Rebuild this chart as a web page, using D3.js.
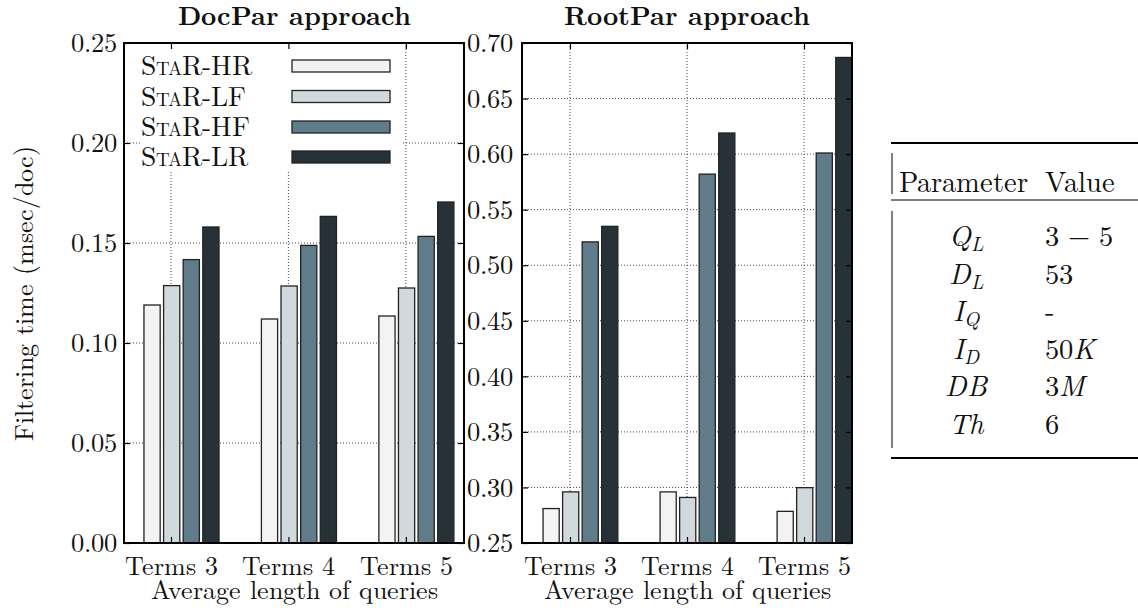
<!DOCTYPE html>
<html>
<head>
<meta charset="utf-8">
<script src="https://cdn.jsdelivr.net/npm/d3@7"></script>
<style>
  @font-face {
    font-family: "LMR";
    src: local("LMRoman10-Regular"), local("LM Roman 10 Regular"), local("Latin Modern Roman");
    font-weight: 400; font-style: normal;
    ascent-override: 70%; descent-override: 20%; line-gap-override: 0%;
  }
  @font-face {
    font-family: "LMR";
    src: local("LMRoman10-Bold"), local("LM Roman 10 Bold"), local("Latin Modern Roman Bold");
    font-weight: 700; font-style: normal;
    ascent-override: 70%; descent-override: 20%; line-gap-override: 0%;
  }
  @font-face {
    font-family: "LMR";
    src: local("LMRoman10-Italic"), local("LM Roman 10 Italic"), local("Latin Modern Roman Italic");
    font-weight: 400; font-style: italic;
    ascent-override: 70%; descent-override: 20%; line-gap-override: 0%;
  }
  html, body { margin: 0; padding: 0; background: #fff; }
  svg { display: block; }
</style>
</head>
<body>
<svg id="chart" width="1138" height="608"></svg>
<script>
// ---------------- data ----------------
const categories = ["Terms 3", "Terms 4", "Terms 5"];
const seriesNames = ["StaR-HR", "StaR-LF", "StaR-HF", "StaR-LR"];
const seriesColors = ["#f3f3f3", "#d1d9dc", "#607c8a", "#263238"];

const docParHR = [0.119, 0.112, 0.1135];
const docParLF = [0.1287, 0.1285, 0.1275];
const docParHF = [0.1417, 0.1488, 0.1533];
const docParLR = [0.158, 0.1633, 0.1705];

const rootParHR = [0.281, 0.296, 0.2785];
const rootParLF = [0.296, 0.291, 0.2998];
const rootParHF = [0.521, 0.582, 0.601];
const rootParLR = [0.535, 0.619, 0.687];

const yTicksDoc = [0.00, 0.05, 0.10, 0.15, 0.20, 0.25];
const yTicksRoot = [0.25, 0.30, 0.35, 0.40, 0.45, 0.50, 0.55, 0.60, 0.65, 0.70];

const tableParams = [
  {main: "Q", sub: "L"},
  {main: "D", sub: "L"},
  {main: "I", sub: "Q"},
  {main: "I", sub: "D"},
  {main: "DB", sub: ""},
  {main: "Th", sub: ""}
];
const tableValues = [
  [{t: "3 \u2212 5", i: false}],
  [{t: "53", i: false}],
  [{t: "-", i: false}],
  [{t: "50", i: false}, {t: "K", i: true}],
  [{t: "3", i: false}, {t: "M", i: true}],
  [{t: "6", i: false}]
];

// ---------------- drawing ----------------
const FONT = '"LMR", "Latin Modern Roman", "Liberation Serif", serif';
const svg = d3.select("#chart");
const fmt = d3.format(".2f");

function panel(cfg) {
  const {x0, x1, y0, y1, xDomain, yDomain, yTicks, values, title, labelPad, legend} = cfg;
  const x = d3.scaleLinear().domain(xDomain).range([x0, x1]);
  const y = d3.scaleLinear().domain(yDomain).range([y1, y0]);
  const g = svg.append("g");

  // grid
  g.append("g").selectAll("line").data(yTicks.slice(1, -1)).join("line")
    .attr("x1", x0).attr("x2", x1).attr("y1", d => y(d)).attr("y2", d => y(d))
    .attr("stroke", "#333").attr("stroke-width", 0.9).attr("stroke-dasharray", "1,2");
  g.append("g").selectAll("line").data(d3.range(categories.length)).join("line")
    .attr("x1", d => x(d)).attr("x2", d => x(d)).attr("y1", y0).attr("y2", y1)
    .attr("stroke", "#333").attr("stroke-width", 0.9).attr("stroke-dasharray", "1,2");

  // bars
  const slot = 0.167, bw = 0.138, start = -0.23;
  const rows = [];
  values.forEach((arr, s) => arr.forEach((v, c) => rows.push({s, c, v})));
  g.append("g").selectAll("rect").data(rows).join("rect")
    .attr("x", d => x(d.c + start + d.s * slot))
    .attr("width", d => x(d.c + start + d.s * slot + bw) - x(d.c + start + d.s * slot))
    .attr("y", d => y(d.v))
    .attr("height", d => y(yDomain[0]) - y(d.v))
    .attr("fill", d => seriesColors[d.s])
    .attr("stroke", "#222").attr("stroke-width", 1.3);

  // legend
  if (legend) {
    const lg = g.append("g");
    lg.append("rect").attr("x", 141).attr("y", y0 + 2).attr("width", 260).attr("height", 127)
      .attr("fill", "#fff");
    const rowY = [66, 96.5, 127, 157];
    seriesNames.forEach((name, i) => {
      lg.append("text").attr("x", 141).attr("y", rowY[i] + 9)
        .attr("font-size", 27.5).style("font-variant", "small-caps").text(name);
      lg.append("rect").attr("x", 292).attr("y", rowY[i] - 6).attr("width", 98).attr("height", 12)
        .attr("fill", seriesColors[i]).attr("stroke", "#222").attr("stroke-width", 1.3);
    });
  }

  // axes
  const axL = g.append("g").attr("transform", `translate(${x0},0)`)
    .call(d3.axisLeft(y).tickValues(yTicks).tickSize(-6).tickPadding(labelPad).tickFormat(fmt));
  const axR = g.append("g").attr("transform", `translate(${x1},0)`)
    .call(d3.axisRight(y).tickValues(yTicks).tickSize(-6).tickFormat(""));
  const axT = g.append("g").attr("transform", `translate(0,${y0})`)
    .call(d3.axisTop(x).tickValues(d3.range(categories.length)).tickSize(-6).tickFormat(""));
  const axB = g.append("g").attr("transform", `translate(0,${y1})`)
    .call(d3.axisBottom(x).tickValues(d3.range(categories.length)).tickSize(-6)
      .tickFormat(i => categories[i]));
  [axL, axR, axT, axB].forEach(a => {
    a.select(".domain").remove();
    a.selectAll(".tick line").attr("stroke", "#000").attr("stroke-width", 1.2);
    a.attr("font-family", null).attr("font-size", null);
  });
  axL.selectAll("text").attr("font-size", 26.5).attr("dy", "0.33em");
  axB.selectAll("text").attr("font-size", 26).attr("y", 31.5).attr("dy", 0);

  // frame
  g.append("rect").attr("x", x0).attr("y", y0).attr("width", x1 - x0).attr("height", y1 - y0)
    .attr("fill", "none").attr("stroke", "#000").attr("stroke-width", 2);

  // title and x label
  g.append("text").attr("x", (x0 + x1) / 2).attr("y", 25).attr("text-anchor", "middle")
    .attr("font-size", 26.5).style("font-weight", "bold").text(title);
  g.append("text").attr("x", (x0 + x1) / 2).attr("y", 598.5).attr("text-anchor", "middle")
    .attr("font-size", 26).text("Average length of queries");
}

panel({
  x0: 124, x1: 464, y0: 43, y1: 543,
  xDomain: [-0.4, 2.495], yDomain: [0, 0.25], yTicks: yTicksDoc,
  values: [docParHR, docParLF, docParHF, docParLR],
  title: "DocPar approach", labelPad: 7, legend: true
});
panel({
  x0: 522, x1: 852, y0: 43, y1: 543,
  xDomain: [-0.41, 2.41], yDomain: [0.25, 0.70], yTicks: yTicksRoot,
  values: [rootParHR, rootParLF, rootParHF, rootParLR],
  title: "RootPar approach", labelPad: 9, legend: false
});

// y label
svg.append("text").attr("transform", "translate(33,293) rotate(-90)")
  .attr("text-anchor", "middle").attr("font-size", 26).text("Filtering time (msec/doc)");

// ---------------- table ----------------
const tb = svg.append("g");
tb.append("line").attr("x1", 891).attr("x2", 1138).attr("y1", 143).attr("y2", 143)
  .attr("stroke", "#000").attr("stroke-width", 2);
tb.append("line").attr("x1", 891).attr("x2", 1138).attr("y1", 200).attr("y2", 200)
  .attr("stroke", "#000").attr("stroke-width", 1);
tb.append("line").attr("x1", 891).attr("x2", 1138).attr("y1", 458).attr("y2", 458)
  .attr("stroke", "#000").attr("stroke-width", 2);
tb.append("line").attr("x1", 892).attr("x2", 892).attr("y1", 153).attr("y2", 194)
  .attr("stroke", "#000").attr("stroke-width", 1);
tb.append("line").attr("x1", 892).attr("x2", 892).attr("y1", 211).attr("y2", 448)
  .attr("stroke", "#000").attr("stroke-width", 1);

tb.append("text").attr("x", 963).attr("y", 192).attr("text-anchor", "middle")
  .attr("font-size", 28.5).text("Parameter");
tb.append("text").attr("x", 1045).attr("y", 192).attr("font-size", 28.5).text("Value");

const rowBase = d3.range(tableParams.length).map(i => 246 + i * 37.5);
tableParams.forEach((p, i) => {
  const t = tb.append("text").attr("x", 966).attr("y", rowBase[i]).attr("text-anchor", "middle")
    .attr("font-size", 28.5);
  t.append("tspan").style("font-style", "italic").text(p.main);
  if (p.sub) {
    t.append("tspan").style("font-style", "italic").attr("font-size", 20).attr("dy", 5).text(p.sub);
  }
});
tableValues.forEach((parts, i) => {
  const t = tb.append("text").attr("x", 1045).attr("y", rowBase[i]).attr("font-size", 28.5);
  parts.forEach(pt => t.append("tspan").style("font-style", pt.i ? "italic" : "normal").text(pt.t));
});

// font for every text
svg.selectAll("text").style("font-family", FONT).attr("fill", "#111");
</script>
</body>
</html>
